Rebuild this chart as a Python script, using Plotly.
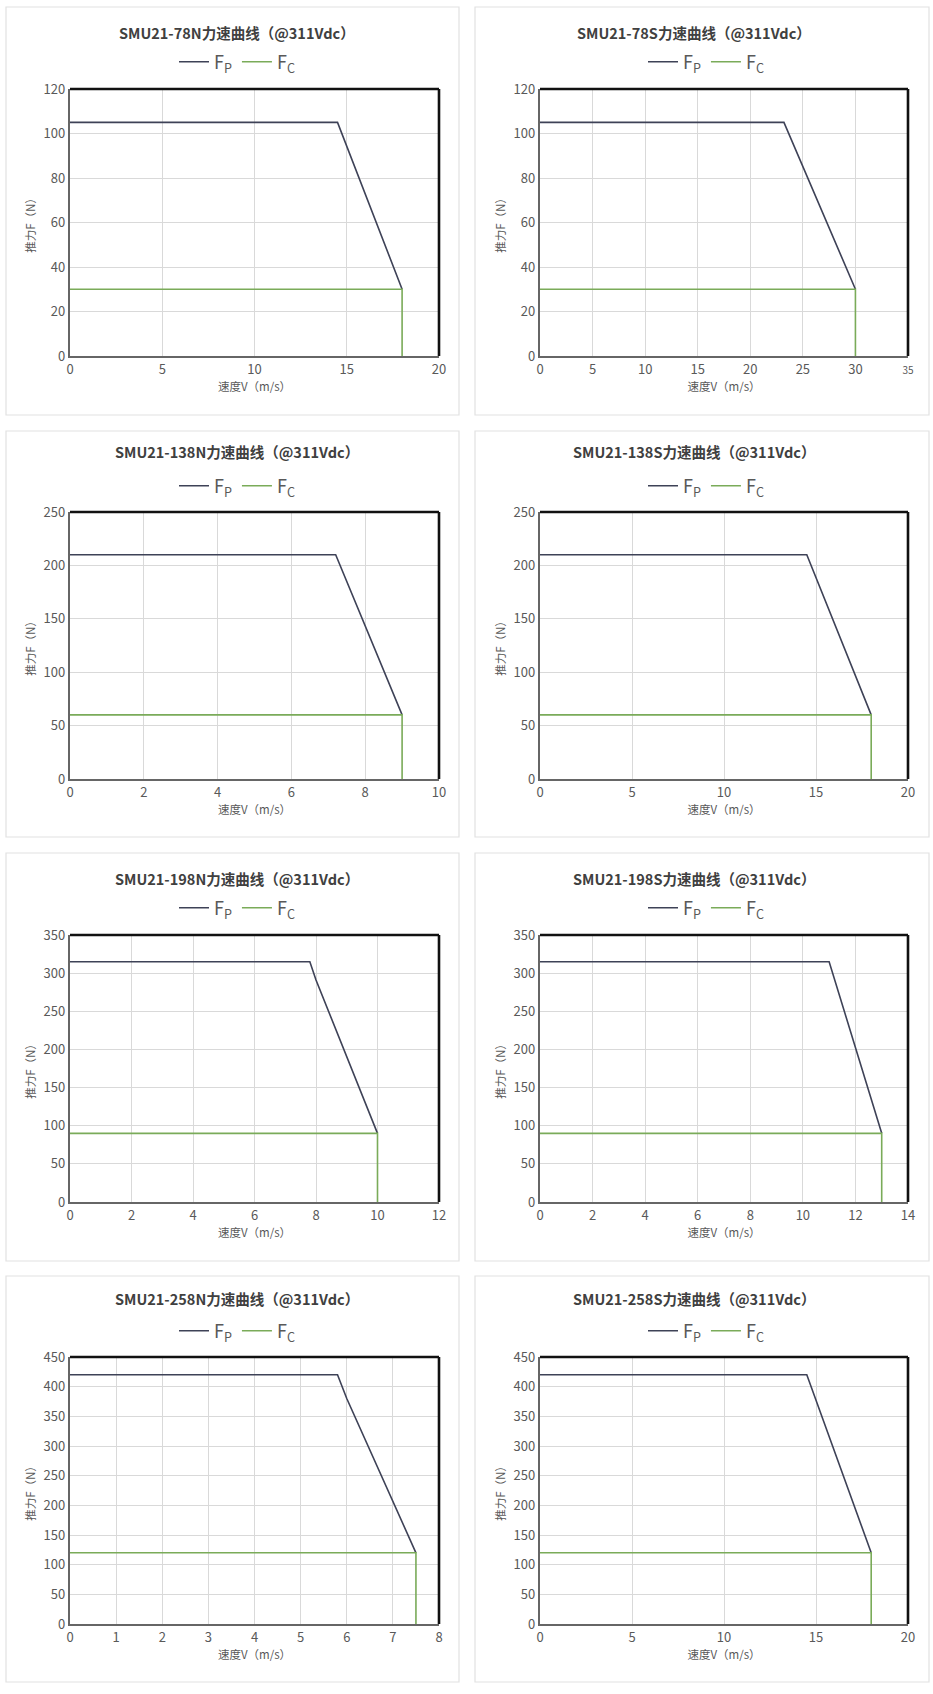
import plotly.graph_objects as go

W, H = 933, 1694

# ---------------- data ----------------
titles = [
    "SMU21-78N力速曲线（@311Vdc）", "SMU21-78S力速曲线（@311Vdc）",
    "SMU21-138N力速曲线（@311Vdc）", "SMU21-138S力速曲线（@311Vdc）",
    "SMU21-198N力速曲线（@311Vdc）", "SMU21-198S力速曲线（@311Vdc）",
    "SMU21-258N力速曲线（@311Vdc）", "SMU21-258S力速曲线（@311Vdc）",
]

v_fp_78N = [0, 14.5, 18]
f_fp_78N = [105, 105, 30]
v_fc_78N = [0, 18, 18]
f_fc_78N = [30, 30, 0]

v_fp_78S = [0, 23.2, 30]
f_fp_78S = [105, 105, 30]
v_fc_78S = [0, 30, 30]
f_fc_78S = [30, 30, 0]

v_fp_138N = [0, 7.2, 9]
f_fp_138N = [210, 210, 60]
v_fc_138N = [0, 9, 9]
f_fc_138N = [60, 60, 0]

v_fp_138S = [0, 14.5, 18]
f_fp_138S = [210, 210, 60]
v_fc_138S = [0, 18, 18]
f_fc_138S = [60, 60, 0]

v_fp_198N = [0, 7.8, 8.0, 10]
f_fp_198N = [315, 315, 291, 90]
v_fc_198N = [0, 10, 10]
f_fc_198N = [90, 90, 0]

v_fp_198S = [0, 11, 13]
f_fp_198S = [315, 315, 90]
v_fc_198S = [0, 13, 13]
f_fc_198S = [90, 90, 0]

v_fp_258N = [0, 5.8, 6.0, 7.5]
f_fp_258N = [420, 420, 380, 120]
v_fc_258N = [0, 7.5, 7.5]
f_fc_258N = [120, 120, 0]

v_fp_258S = [0, 14.5, 18]
f_fp_258S = [420, 420, 120]
v_fc_258S = [0, 18, 18]
f_fc_258S = [120, 120, 0]

v_fp = [v_fp_78N, v_fp_78S, v_fp_138N, v_fp_138S, v_fp_198N, v_fp_198S, v_fp_258N, v_fp_258S]
f_fp = [f_fp_78N, f_fp_78S, f_fp_138N, f_fp_138S, f_fp_198N, f_fp_198S, f_fp_258N, f_fp_258S]
v_fc = [v_fc_78N, v_fc_78S, v_fc_138N, v_fc_138S, v_fc_198N, v_fc_198S, v_fc_258N, v_fc_258S]
f_fc = [f_fc_78N, f_fc_78S, f_fc_138N, f_fc_138S, f_fc_198N, f_fc_198S, f_fc_258N, f_fc_258S]

x_max = [20, 35, 10, 20, 12, 14, 8, 20]
x_step = [5, 5, 2, 5, 2, 2, 1, 5]
y_max = [120, 120, 250, 250, 350, 350, 450, 450]
y_step = [20, 20, 50, 50, 50, 50, 50, 50]

x_title = "速度V（m/s）"
y_title = "推力F（N）"
fp_name = "F<sub>P</sub>"
fc_name = "F<sub>C</sub>"

# ---------------- style / layout ----------------
FONT = "Noto Sans CJK SC"
C_FP = "#3e4257"
C_FC = "#7aab59"
C_TXT = "#595959"
C_GRID = "#d9d9d9"

col_plot_x = [(70, 439), (540, 908)]
row_plot_y = [(89, 356), (512, 779), (935, 1202), (1357, 1624)]
col_card_x = [(6, 459), (475, 929)]
row_card_y = [(7, 415), (431, 837), (853, 1261), (1276, 1682)]
col_title_x = [237, 694]
row_title_y = [33, 452, 878, 1298]
col_leg_x = [237, 706]
row_leg_y = [62, 486, 908, 1331]


def px(x):
    return x / W


def py(y):
    return 1 - y / H


fig = go.Figure()
shapes = []
annotations = []
layout = {}

for i in range(8):
    r, c = divmod(i, 2)
    n = "" if i == 0 else str(i + 1)
    xa, ya = "x" + n, "y" + n
    leg = "legend" + n

    # card background
    x0, x1 = col_card_x[c]
    y0, y1 = row_card_y[r]
    shapes.append(dict(type="rect", xref="paper", yref="paper", layer="below",
                       x0=px(x0), x1=px(x1), y0=py(y1), y1=py(y0),
                       line=dict(color="#e2e2e2", width=1.2), fillcolor="white"))

    fig.add_trace(go.Scatter(x=v_fp[i], y=f_fp[i], mode="lines", name=fp_name,
                             line=dict(color=C_FP, width=1.6),
                             xaxis=xa, yaxis=ya, legend=leg, hoverinfo="skip"))
    fig.add_trace(go.Scatter(x=v_fc[i], y=f_fc[i], mode="lines", name=fc_name,
                             line=dict(color=C_FC, width=1.6),
                             xaxis=xa, yaxis=ya, legend=leg, hoverinfo="skip"))

    tvals = list(range(0, x_max[i] + 1, x_step[i]))
    ttext = [str(t) for t in tvals]
    if i == 1:
        ttext[-1] = "<span style='font-size:10px'>35</span>"

    layout["xaxis" + n] = dict(
        domain=[px(col_plot_x[c][0]), px(col_plot_x[c][1])], anchor=ya,
        range=[0, x_max[i]], tickvals=tvals, ticktext=ttext,
        showgrid=True, gridcolor=C_GRID, gridwidth=1, zeroline=False,
        showline=True, linecolor="#666666", linewidth=2.4, ticks="",
        tickfont=dict(family=FONT, size=13, color=C_TXT), automargin=False,
        title=dict(text=x_title, font=dict(family=FONT, size=11.5, color=C_TXT), standoff=5),
        fixedrange=True,
    )
    layout["yaxis" + n] = dict(
        domain=[py(row_plot_y[r][1]), py(row_plot_y[r][0])], anchor=xa,
        range=[0, y_max[i]], dtick=y_step[i], tick0=0,
        showgrid=True, gridcolor=C_GRID, gridwidth=1, zeroline=False,
        showline=True, linecolor="#666666", linewidth=2.4, ticks="",
        tickfont=dict(family=FONT, size=13, color=C_TXT), automargin=False,
        title=dict(text=y_title, font=dict(family=FONT, size=11.5, color=C_TXT), standoff=6),
        fixedrange=True,
    )
    # black top and right border of plot area
    shapes.append(dict(type="line", xref=xa + " domain", yref=ya + " domain",
                       x0=0, x1=1, y0=1, y1=1, line=dict(color="#111111", width=2.6)))
    shapes.append(dict(type="line", xref=xa + " domain", yref=ya + " domain",
                       x0=1, x1=1, y0=0, y1=1, line=dict(color="#111111", width=2.6)))

    annotations.append(dict(text="<b>" + titles[i] + "</b>", xref="paper", yref="paper",
                            x=px(col_title_x[c]), y=py(row_title_y[r]),
                            xanchor="center", yanchor="middle", showarrow=False,
                            font=dict(family=FONT, size=14.5, color="#404040")))

    layout[leg] = dict(orientation="h", x=px(col_leg_x[c]), y=py(row_leg_y[r]),
                       xanchor="center", yanchor="middle", bgcolor="rgba(0,0,0,0)",
                       font=dict(family=FONT, size=18, color=C_TXT),
                       itemwidth=30, tracegroupgap=0, itemclick=False, itemdoubleclick=False)

fig.update_layout(
    width=W, height=H, margin=dict(l=0, r=0, t=0, b=0, pad=0, autoexpand=False),
    paper_bgcolor="white", plot_bgcolor="white",
    showlegend=True, shapes=shapes, annotations=annotations,
    **layout,
)

fig.write_html("out.html", config={"displayModeBar": False},
               post_script="document.body.style.margin='0';document.body.style.overflow='hidden';")
